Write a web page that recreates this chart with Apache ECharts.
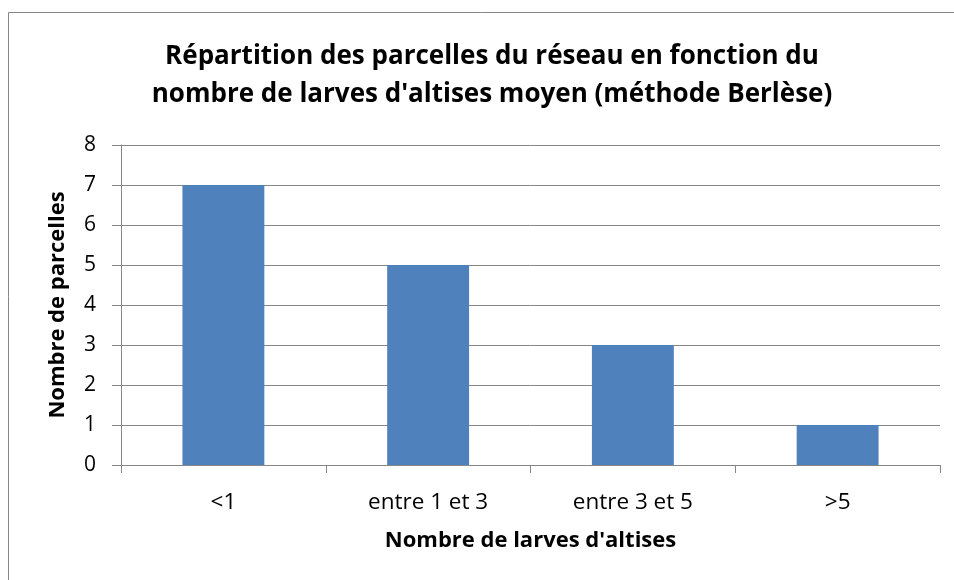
<!DOCTYPE html>
<html><head><meta charset="utf-8">
<script src="https://cdn.jsdelivr.net/npm/echarts@6/dist/echarts.min.js"></script>
<style>html,body{margin:0;padding:0;background:#fff}#c{width:954px;height:580px}</style>
</head><body><div id="c"></div>
<script>
const categories = ['<1', 'entre 1 et 3', 'entre 3 et 5', '>5'];
const values = [7, 5, 3, 1];
const yTicks = [0, 1, 2, 3, 4, 5, 6, 7, 8];
const titleText = "Répartition des parcelles du réseau en fonction du\nnombre de larves d'altises moyen (méthode Berlèse)";
const xName = "Nombre de larves d'altises";
const yName = "Nombre de parcelles";

const FONT = "'Open Sans', 'Liberation Sans', sans-serif";
const chart = echarts.init(document.getElementById('c'), null, {renderer: 'canvas'});
chart.setOption({
  animation: false,
  backgroundColor: '#fff',
  graphic: [{
    type: 'rect', shape: {x: 8.5, y: 12.5, width: 1000, height: 1000},
    style: {fill: 'none', stroke: '#868686', lineWidth: 1}, z: -1
  }],
  title: {
    text: titleText, left: 487, top: 33, textAlign: 'center',
    textStyle: {fontFamily: FONT, fontWeight: 'bold', fontSize: 26, lineHeight: 38, color: '#000'}
  },
  grid: {left: 121, right: 14, top: 145, bottom: 115, containLabel: false},
  xAxis: {
    type: 'category', data: categories,
    name: xName, nameLocation: 'middle', nameGap: 65,
    nameTextStyle: {fontFamily: FONT, fontWeight: 'bold', fontSize: 22, color: '#000'},
    axisLine: {show: true, lineStyle: {color: '#868686', width: 1}},
    axisTick: {show: true, length: 8, lineStyle: {color: '#868686'}},
    axisLabel: {fontFamily: FONT, fontSize: 22.5, color: '#000', margin: 26}
  },
  yAxis: {
    type: 'value', min: 0, max: 8, interval: 1,
    name: yName, nameLocation: 'middle', nameGap: 52,
    nameTextStyle: {fontFamily: FONT, fontWeight: 'bold', fontSize: 22, color: '#000'},
    axisLine: {show: true, lineStyle: {color: '#868686', width: 1}},
    axisTick: {show: true, length: 9, lineStyle: {color: '#868686'}},
    axisLabel: {fontFamily: FONT, fontSize: 21, color: '#000', margin: 25,
      formatter: v => yTicks.includes(v) ? String(v) : ''},
    splitLine: {show: true, lineStyle: {color: '#868686', width: 1}}
  },
  series: [{
    type: 'bar', data: values, barCategoryGap: '60%',
    itemStyle: {color: '#4F81BD'}
  }]
});
</script></body></html>
